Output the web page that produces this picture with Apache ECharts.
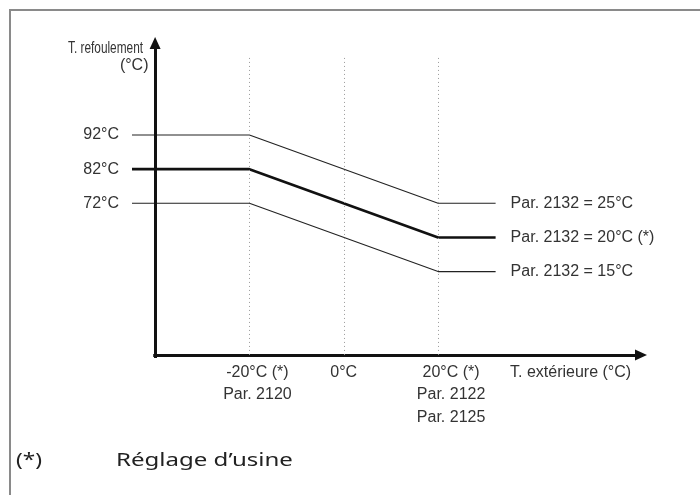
<!DOCTYPE html>
<html><head><meta charset="utf-8">
<script src="https://cdn.jsdelivr.net/npm/echarts@6/dist/echarts.min.js"></script>
<style>html,body{margin:0;padding:0;background:#fff}#c{width:700px;height:495px}</style>
</head><body><div id="c"></div>
<script>
// ---- data ----
const outdoorTemps = [-44.9, -20, 20, 32.2];
const flow25 = [92, 92, 72, 72];
const flow20 = [82, 82, 62, 62];
const flow15 = [72, 72, 52, 52];
const seriesNames = ['Par. 2132 = 25°C', 'Par. 2132 = 20°C (*)', 'Par. 2132 = 15°C'];
const xTickValues = [-20, 0, 20];
const xTickLabels = ['-20°C (*)\nPar. 2120', '0°C', '20°C (*)\nPar. 2122\nPar. 2125'];
const xAxisTitle = 'T. extérieure (°C)';
const yTickValues = [72, 82, 92];
const yTickLabels = ['72°C', '82°C', '92°C'];
const yAxisTitle = ['T. refoulement', '(°C)'];
const footnote = ['(*)', 'Réglage d’usine'];

// ---- layout ----
const X_MIN = -44.9, X_MAX = 64.3, Y_MIN = 26.7, Y_MAX = 120.7;
const AX_X = -40, AX_Y = 27.6;
const PX_X = 515 / (X_MAX - X_MIN), PX_Y = 321 / (Y_MAX - Y_MIN);
const FONT = '"Liberation Sans", Arial, Helvetica, sans-serif';
const FS = 16;
const TXT = '#333';

const labelShiftPx = [8, 0, 13];
const xLabelPos = xTickValues.map((v, i) => v + labelShiftPx[i] / PX_X).concat([48.1]);
const xLabelText = xTickLabels.concat([xAxisTitle]);

const pairs = ys => outdoorTemps.map((x, i) => [x, ys[i]]);
const lineSeries = (name, ys, width, color) => ({
  name, type: 'line', data: pairs(ys), symbol: 'none', clip: false, silent: true,
  lineStyle: { width, color },
  endLabel: { show: true, formatter: name, distance: 15, fontSize: FS, fontFamily: FONT, color: TXT }
});

const axisStyle = { color: '#111', width: 3, type: 'solid' };
const s25 = lineSeries(seriesNames[0], flow25, 1.1, '#222');
s25.markLine = {
  silent: true, animation: false, label: { show: false }, symbol: 'none',
  data: [
    [{ coord: [AX_X, Y_MIN], symbol: 'none' },
     { coord: [AX_X, Y_MAX - 6 / PX_Y], symbol: 'triangle', symbolSize: [11, 12], lineStyle: axisStyle }],
    [{ coord: [AX_X - 0.4, AX_Y], symbol: 'none' },
     { coord: [X_MAX - 6 / PX_X, AX_Y], symbol: 'triangle', symbolSize: [11, 12], lineStyle: axisStyle }]
  ].concat(xTickValues.map(v => [
    { coord: [v, AX_Y], symbol: 'none' },
    { coord: [v, 115.3], symbol: 'none', lineStyle: { color: '#9a9a9a', width: 1, type: [1, 3] } }
  ]))
};

const chart = echarts.init(document.getElementById('c'), null, { renderer: 'canvas' });
chart.setOption({
  animation: false,
  backgroundColor: '#fff',
  grid: { left: 132, right: 53, top: 37, bottom: 137 },
  xAxis: {
    type: 'value', min: X_MIN, max: X_MAX,
    axisLine: { show: false }, axisTick: { show: false }, splitLine: { show: false },
    axisLabel: {
      customValues: xLabelPos, margin: 3, fontSize: FS, lineHeight: 22.5,
      fontFamily: FONT, color: TXT, verticalAlign: 'top',
      formatter: v => { const i = xLabelPos.findIndex(p => Math.abs(p - v) < 1e-6); return i >= 0 ? xLabelText[i] : ''; }
    }
  },
  yAxis: {
    type: 'value', min: Y_MIN, max: Y_MAX,
    axisLine: { show: false }, axisTick: { show: false }, splitLine: { show: false },
    axisLabel: {
      customValues: yTickValues, margin: 13, fontSize: FS, fontFamily: FONT, color: TXT,
      formatter: v => { const i = yTickValues.indexOf(v); return i >= 0 ? yTickLabels[i] : ''; }
    }
  },
  series: [
    s25,
    lineSeries(seriesNames[1], flow20, 2.6, '#111'),
    lineSeries(seriesNames[2], flow15, 1.1, '#222')
  ],
  graphic: [
    { type: 'rect', silent: true, shape: { x: 10, y: 10, width: 720, height: 520 },
      style: { fill: 'none', stroke: '#8a8a8a', lineWidth: 2 } },
    { type: 'text', silent: true, x: 143, y: 49, scaleX: 0.74,
      style: { text: yAxisTitle[0], align: 'right', verticalAlign: 'middle', font: FS + 'px ' + FONT, fill: TXT } },
    { type: 'text', silent: true, x: 148.5, y: 65.5,
      style: { text: yAxisTitle[1], align: 'right', verticalAlign: 'middle', font: FS + 'px ' + FONT, fill: TXT } },
    { type: 'text', silent: true, x: 16, y: 461, scaleX: 1.22,
      style: { text: footnote[0], align: 'left', verticalAlign: 'middle', font: '18.5px "Noto Sans", "Open Sans", sans-serif', fill: '#222' } },
    { type: 'text', silent: true, x: 116, y: 461, scaleX: 1.3,
      style: { text: footnote[1], align: 'left', verticalAlign: 'middle', font: '18.5px "Noto Sans", "Open Sans", sans-serif', fill: '#222' } }
  ]
});
</script></body></html>
